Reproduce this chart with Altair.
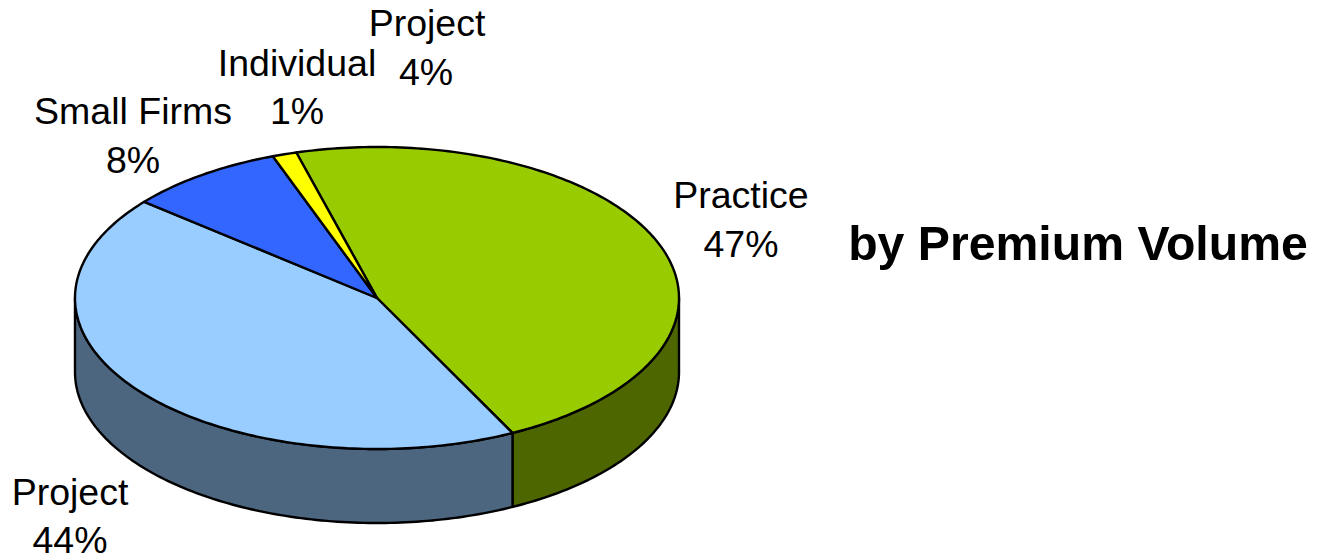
import math
import altair as alt
import pandas as pd

# slice shares as drawn (clockwise from the start angle)
slices = ["Practice", "Project", "Small Firms", "Individual"]
shares = [46.9, 43.4, 8.4, 1.3]
top_colors = ["#99CC00", "#99CCFF", "#3366FF", "#FFFF00"]
side_colors = ["#4D6600", "#4D6680", "#1A3380", "#808000"]

label_lines = ["Project", "4%", "Individual", "1%", "Small Firms", "8%", "Practice", "47%", "Project", "44%"]
label_x = [427, 426, 297, 297, 133, 133, 741, 741, 70, 70]
label_y = [36, 85, 76, 124, 124, 173, 208, 257, 505, 553]

title_text = "by Premium Volume"

CX, CY, RX, RY, DEPTH = 377.0, 298.0, 302.0, 151.0, 74.0
START = -15.5


def rim(t, drop=0.0):
    r = math.radians(t)
    return CX + RX * math.sin(r), CY - RY * math.cos(r) + drop


top_rows, side_rows = [], []
t = START
for name, share in zip(slices, shares):
    t1 = t + share * 3.6
    steps = max(2, int(share * 3.6))
    pts = [(CX, CY)] + [rim(t + (t1 - t) * k / steps) for k in range(steps + 1)]
    for i, (x, y) in enumerate(pts):
        top_rows.append({"slice": name, "i": i, "x": x, "y": y})
    # visible wall: part of the rim on the front half (90..270 degrees)
    a, b = max(t, 90.0), min(t1, 270.0)
    if a < b:
        n = int(b - a)
        arc = [a + (b - a) * k / n for k in range(n + 1)]
        outline = [rim(v) for v in arc] + [rim(v, DEPTH) for v in reversed(arc)]
        for i, (x, y) in enumerate(outline):
            side_rows.append({"slice": name, "i": i, "x": x, "y": y})
    t = t1

x_enc = alt.X("x:Q", scale=alt.Scale(domain=[8, 1310], nice=False, zero=False), axis=None)
y_enc = alt.Y("y:Q", scale=alt.Scale(domain=[556, 8], nice=False, zero=False), axis=None)


def polygons(rows, colors):
    return (
        alt.Chart(pd.DataFrame(rows))
        .mark_line(stroke="#000000", strokeWidth=2.4, interpolate="linear-closed", strokeJoin="round", clip=False)
        .encode(
            x=x_enc,
            y=y_enc,
            order="i:Q",
            detail="slice:N",
            fill=alt.Fill("slice:N", scale=alt.Scale(domain=slices, range=colors), legend=None),
        )
    )


labels = (
    alt.Chart(pd.DataFrame({"t": label_lines, "x": label_x, "y": label_y}))
    .mark_text(font="Liberation Sans", fontSize=37.5, color="#000000", align="center", baseline="alphabetic")
    .encode(x=x_enc, y=y_enc, text="t:N")
)

title = (
    alt.Chart(pd.DataFrame({"t": [title_text], "x": [1078], "y": [260]}))
    .mark_text(font="Liberation Sans", fontSize=48.2, fontWeight="bold", color="#000000", align="center", baseline="alphabetic")
    .encode(x=x_enc, y=y_enc, text="t:N")
)

chart = (
    alt.layer(polygons(side_rows, side_colors), polygons(top_rows, top_colors), labels, title)
    .resolve_scale(fill="independent")
    .properties(width=1302, height=548, padding=0, autosize=alt.AutoSizeParams(type="none"), background="#FFFFFF")
    .configure_view(stroke=None)
)

chart.save("out.html", embed_options={"renderer": "svg", "actions": False})
